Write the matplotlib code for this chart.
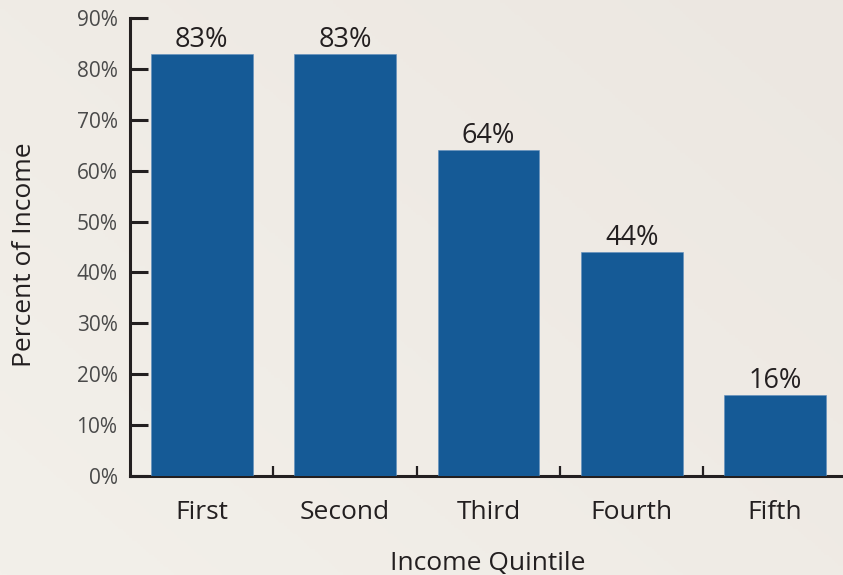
import numpy as np
import matplotlib
matplotlib.use("Agg")
import matplotlib.pyplot as plt
from matplotlib.colors import LinearSegmentedColormap

categories = ["First", "Second", "Third", "Fourth", "Fifth"]
values = [83, 83, 64, 44, 16]
ytick_vals = [0, 10, 20, 30, 40, 50, 60, 70, 80, 90]
ytick_labels = [f"{v}%" for v in ytick_vals]

plt.rcParams['font.family'] = ['Open Sans', 'DejaVu Sans']

W, H = 843, 575
fig = plt.figure(figsize=(W / 100, H / 100), dpi=100)

# background gradient
bg = fig.add_axes([0, 0, 1, 1], zorder=-10)
yy, xx = np.mgrid[0:1:200j, 0:1:300j]
grad = np.clip(0.55 * xx + 0.45 * yy, 0, 1)
cmap = LinearSegmentedColormap.from_list("bg", ["#f3f0ea", "#ece7e1"])
bg.imshow(grad, cmap=cmap, origin="lower", extent=[0, 1, 0, 1], aspect="auto")
bg.axis("off")

left = 130 / W
bottom = 1 - 476 / H
top = 1 - 18 / H
ax = fig.add_axes([left, bottom, 1 - left, top - bottom])
ax.patch.set_alpha(0)

x = np.arange(len(categories))
bars = ax.bar(x, values, width=0.71, color="#155a96", zorder=3,
              edgecolor="#5f8fbd", linewidth=0.4)

for xi, v in zip(x, values):
    ax.annotate(f"{v}%", (xi, v), xytext=(0, 5), textcoords="offset points",
                ha="center", va="baseline", fontsize=19.5, color="#231f20")

ax.set_xlim(-0.5, 4.473)
ax.set_ylim(0, 90)

for s in ["top", "right"]:
    ax.spines[s].set_visible(False)
for s in ["left", "bottom"]:
    ax.spines[s].set_linewidth(2.2)
    ax.spines[s].set_color("#231f20")
    ax.spines[s].set_zorder(2)

ax.set_yticks(ytick_vals)
ax.set_yticklabels(ytick_labels)
ax.tick_params(axis="y", direction="in", length=13, width=2.2, color="#231f20",
               pad=9, labelsize=15, labelcolor="#4a4a4a")

ax.set_xticks([0.5, 1.5, 2.5, 3.5])
ax.set_xticklabels([])
ax.tick_params(axis="x", which="major", direction="in", length=7, width=1.6,
               color="#231f20")
ax.set_xticks(x, minor=True)
ax.set_xticklabels(categories, minor=True)
ax.tick_params(axis="x", which="minor", length=0, pad=17, labelsize=19,
               labelcolor="#231f20")

fig.text(25 / W, 1 - 255 / H, "Percent of Income", rotation=90, ha="center",
         va="center", fontsize=19, color="#231f20")
fig.text(488 / W, 1 - 563 / H, "Income Quintile", ha="center", va="center",
         fontsize=19, color="#231f20")

fig.savefig("out.png", dpi=100)
